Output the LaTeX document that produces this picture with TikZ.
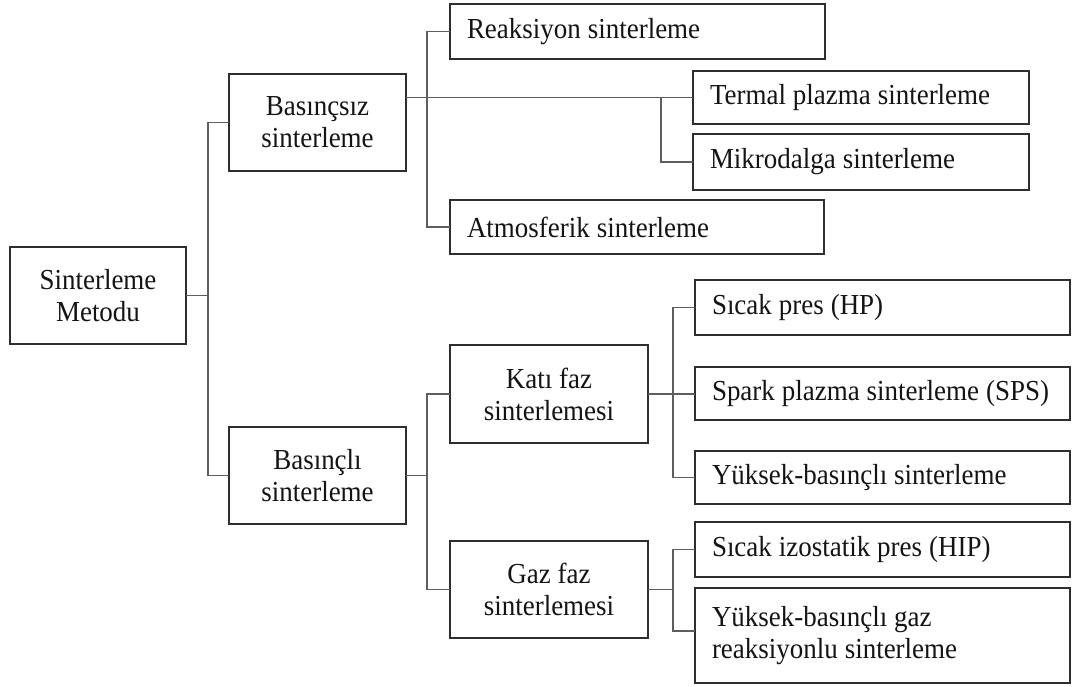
\documentclass[tikz,border=0pt]{standalone}
\usepackage{fontspec}
\setmainfont{Liberation Serif}[FakeStretch=0.93]
\usetikzlibrary{calc}
\definecolor{boxline}{HTML}{2E2E2E}
\definecolor{connline}{HTML}{5E5E5E}
\definecolor{txt}{HTML}{141414}
\begin{document}
\begin{tikzpicture}[x=1pt,y=-1pt,
  base/.style={draw=boxline, line width=1.7pt, fill=white, text=txt,
    font=\fontsize{29}{32}\selectfont, inner ysep=0pt, outer sep=0pt,
    execute at begin node={\spaceskip=0.24em\relax\xspaceskip=0.24em\relax}},
  cbox/.style 2 args={base, align=center, minimum width=#1, minimum height=#2, inner xsep=0pt},
  lbox/.style 2 args={base, text ragged, text width=#1-34pt, inner xsep=17pt, minimum height=#2},
  conn/.style={draw=connline, line width=1.8pt}]
\useasboundingbox (0,0) rectangle (1072,687);

% first and second level
\node[cbox={176pt}{97pt}] (root) at (98,295.5) {Sinterleme\\Metodu};
\node[cbox={177pt}{97pt}] (bsz) at (317.5,122.5) {Basınçsız\\sinterleme};
\node[cbox={177pt}{97pt}] (bli) at (317.5,475.5) {Basınçlı\\sinterleme};

% pressureless methods
\node[lbox={375pt}{55pt}] (reak) at (637.5,31.5) {Reaksiyon sinterleme};
\node[lbox={336pt}{53pt}] (termal) at (861,97.5) {Termal plazma sinterleme};
\node[lbox={336pt}{56pt}] (mikro) at (861,162) {Mikrodalga sinterleme};
\node[lbox={374pt}{54pt}] (atmo) at (637,227) {Atmosferik sinterleme};

% pressure-assisted branches
\node[cbox={198pt}{98pt}] (kati) at (549,394) {Katı faz\\sinterlemesi};
\node[cbox={198pt}{97pt}] (gaz) at (549,589.5) {Gaz faz\\sinterlemesi};

\node[lbox={375pt}{55pt}] (sicak) at (882.5,307.5) {Sıcak pres (HP)};
\node[lbox={375pt}{53pt}] (sps) at (882.5,393.5) {Spark plazma sinterleme (SPS)};
\node[lbox={375pt}{53pt}] (yuksek) at (882.5,477.5) {Yüksek-basınçlı sinterleme};
\node[lbox={375pt}{55pt}] (hip) at (882.5,549.5) {Sıcak izostatik pres (HIP)};
\node[lbox={375pt}{95pt}] (ygaz) at (882.5,635.5) {Yüksek-basınçlı gaz\\reaksiyonlu sinterleme};

% bus lines
\coordinate (t1) at (208,0);
\coordinate (t2) at (427,0);
\coordinate (t3) at (661,0);
\coordinate (t4) at (673,0);
\coordinate (g2) at ($(ygaz.west)+(0,-4.5)$);

\draw[conn] (root.east) -- (root.east -| t1);
\draw[conn] (bsz.west) -| (t1 |- bli.west) -- (bli.west);

\draw[conn] (bsz.east |- termal.west) -- (termal.west);
\draw[conn] (reak.west) -| (t2 |- atmo.west) -- (atmo.west);
\draw[conn] (mikro.west) -| (t3 |- termal.west);

\draw[conn] (bli.east) -- (bli.east -| t2);
\draw[conn] (kati.west) -| (t2 |- gaz.west) -- (gaz.west);

\draw[conn] (kati.east) -- (kati.east -| sps.west);
\draw[conn] (sicak.west) -| (t4 |- yuksek.west) -- (yuksek.west);

\draw[conn] (gaz.east) -- (gaz.east -| t4);
\draw[conn] (hip.west) -| (t4 |- g2) -- (g2);
\end{tikzpicture}
\end{document}
